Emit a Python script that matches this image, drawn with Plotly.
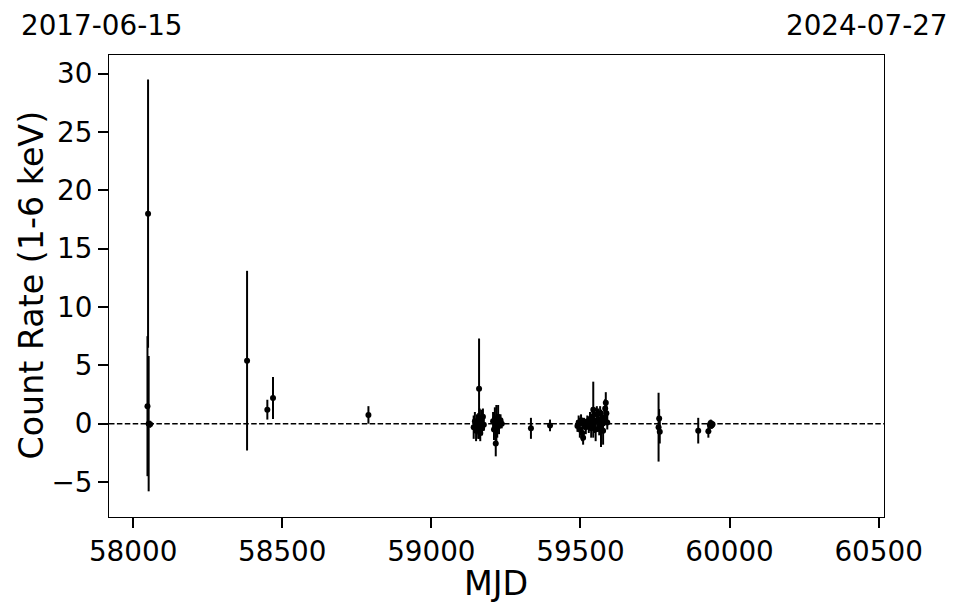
import plotly.graph_objects as go

# MJD of each observation
mjd = [
    58048, 58050, 58052, 58057,
    58382, 58450, 58469, 58789,
    59142, 59146, 59150, 59153, 59157, 59160, 59162, 59164, 59167, 59170, 59173, 59176,
    59207, 59210, 59213, 59216, 59218, 59221, 59224, 59227, 59232, 59236,
    59334, 59398,
    59490, 59494, 59498, 59502, 59506, 59509, 59512, 59518, 59523, 59528, 59532, 59536,
    59540, 59543, 59547, 59551, 59555, 59559, 59563, 59566, 59569, 59573, 59576, 59580,
    59583, 59585, 59587, 59590,
    59762, 59764, 59766,
    59895, 59929, 59934, 59937, 59940, 59943,
]
# Count rate (1-6 keV)
rate = [
    1.5, 18.0, 0.0, -0.05,
    5.4, 1.2, 2.2, 0.75,
    -0.3, 0.2, -0.6, 0.1, -0.2, 3.0, 0.5, -0.8, 0.3, -0.4, 0.6, -0.1,
    0.2, -0.5, 0.4, -1.7, 0.0, -0.3, 0.6, -0.2, 0.3, 0.0,
    -0.4, -0.15,
    -0.2, 0.1, -0.5, 0.3, -0.8, -1.2, 0.0, -0.3, 0.2, -0.1, 0.4, -0.4,
    0.6, 1.2, 0.1, -0.5, 0.8, 0.3, -0.2, 0.9, -0.4, 0.2, -0.6, 0.5,
    1.3, 1.8, 0.9, 0.1,
    -0.3, 0.45, -0.7,
    -0.6, -0.65, -0.1, 0.05, -0.15, -0.05,
]
# 1-sigma uncertainty
err = [
    6.0, 11.5, 5.8, 0.3,
    7.7, 0.85, 1.8, 0.75,
    1.0, 0.8, 0.9, 0.7, 1.1, 4.3, 0.8, 0.7, 0.9, 0.6, 0.7, 0.5,
    0.8, 0.9, 1.0, 1.1, 1.6, 0.9, 1.0, 0.7, 0.5, 0.4,
    0.9, 0.5,
    0.5, 0.6, 0.7, 0.5, 0.7, 0.6, 0.5, 0.6, 0.5, 0.7, 0.6, 0.8,
    0.8, 2.4, 0.9, 1.0, 0.7, 1.0, 0.8, 0.6, 1.6, 0.9, 1.2, 0.7,
    0.8, 0.9, 1.0, 0.6,
    2.95, 0.8, 1.0,
    1.1, 0.55, 0.35, 0.3, 0.3, 0.25,
]

x_range = [57919, 60518]
y_range = [-8, 31.6]
start_date = "2017-06-15"
end_date = "2024-07-27"
x_title = "MJD"
y_title = "Count Rate (1-6 keV)"

FONT = "DejaVu Sans"
SMALL = 27.8
BIG = 33.3

fig = go.Figure()
fig.add_trace(go.Scatter(
    x=mjd, y=rate, mode="markers",
    marker=dict(color="black", size=6),
    error_y=dict(type="data", array=err, visible=True, color="black",
                 thickness=2, width=0),
    showlegend=False,
))

fig.add_hline(y=0, line=dict(color="black", dash="5.5px,2.4px", width=1.5))

axis_common = dict(
    showgrid=False, zeroline=False, automargin=False,
    showline=True, linecolor="black", linewidth=1, mirror=True,
    ticks="outside", ticklen=10, tickwidth=2, tickcolor="black",
    tickfont=dict(family=FONT, size=SMALL, color="black"),
)

txt = dict(xref="paper", yref="paper", showarrow=False)

fig.update_layout(
    width=954, height=605,
    margin=dict(l=101, r=78, t=47, b=96),
    paper_bgcolor="white", plot_bgcolor="white",
    font=dict(family=FONT, color="black"),
    xaxis=dict(
        range=x_range, tickvals=[58000, 58500, 59000, 59500, 60000, 60500],
        ticktext=["58000", "58500", "59000", "59500", "60000", "60500"],
        **axis_common,
    ),
    yaxis=dict(
        range=y_range, tickvals=[-5, 0, 5, 10, 15, 20, 25, 30],
        ticktext=["\u22125", "0", "5", "10", "15", "20", "25", "30"],
        **axis_common,
    ),
    annotations=[
        dict(text=start_date, x=-0.1148, y=1.0628, xanchor="left", yanchor="middle",
             borderpad=0, font=dict(family=FONT, size=SMALL, color="black"), **txt),
        dict(text=end_date, x=1.0839, y=1.0628, xanchor="right", yanchor="middle",
             borderpad=0, font=dict(family=FONT, size=SMALL, color="black"), **txt),
        dict(text=x_title, x=0.4994, y=-0.1429, xanchor="center", yanchor="middle",
             font=dict(family=FONT, size=BIG, color="black"), **txt),
        dict(text=y_title, x=-0.1, y=0.502, xanchor="center", yanchor="middle",
             textangle=-90, font=dict(family=FONT, size=BIG, color="black"), **txt),
    ],
)

fig.write_html("out.html")
